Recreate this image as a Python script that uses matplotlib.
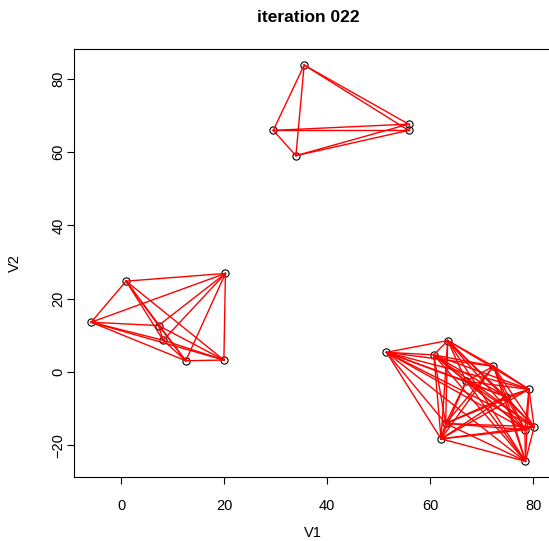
import matplotlib
matplotlib.use('Agg')
import matplotlib.pyplot as plt
import numpy as np
from itertools import combinations

plt.rcParams['font.family'] = ['Liberation Sans', 'DejaVu Sans']

# point coordinates per cluster
v1_a = [35.5, 29.5, 33.9, 55.8, 55.8]
v2_a = [83.7, 65.9, 59.0, 67.6, 65.9]

v1_b = [0.9, 20.2, -5.9, 7.2, 8.1, 12.5, 19.9]
v2_b = [24.8, 26.9, 13.6, 12.7, 8.7, 3.1, 3.3]

v1_c = [51.5, 63.4, 60.7, 72.3, 79.2, 80.2, 78.5, 62.1, 74.7, 67.0, 78.4, 63.0]
v2_c = [5.4, 8.6, 4.7, 1.6, -4.7, -14.9, -24.3, -18.2, -6.7, -2.5, -15.7, -14.0]

clusters = [(v1_a, v2_a), (v1_b, v2_b), (v1_c, v2_c)]

fig = plt.figure(figsize=(5.49, 5.41), dpi=100)
ax = fig.add_axes([0.1348, 0.1189, 0.870, 0.790])

# points first, then every pair inside a cluster joined on top
for xs, ys in clusters:
    ax.plot(xs, ys, 'o', mfc='none', mec='black', ms=5.2, mew=0.8, zorder=1)

for xs, ys in clusters:
    for i, j in combinations(range(len(xs)), 2):
        ax.plot([xs[i], xs[j]], [ys[i], ys[j]], color='red', lw=1.0, zorder=2)

ax.set_xlim(-9.23, 83.6)
ax.set_ylim(-28.5, 88.0)
ax.set_xticks([0, 20, 40, 60, 80])
ax.set_yticks([-20, 0, 20, 40, 60, 80])
ax.set_yticklabels(['\u221220', '0', '20', '40', '60', '80'], rotation=90, va='center')
ax.tick_params(labelsize=10.5, length=5, width=0.8)
ax.tick_params(axis='x', pad=11)
ax.tick_params(axis='y', pad=1)
for s in ax.spines.values():
    s.set_linewidth(0.8)

ax.set_xlabel('V1', fontsize=10.5, va='center')
ax.set_ylabel('V2', fontsize=10.5, va='center')
ax.xaxis.set_label_coords(0.5, -0.131)
ax.yaxis.set_label_coords(-0.124, 0.5)
fig.text(0.562, 0.967, 'iteration 022', ha='center', va='center', fontsize=12.5, fontweight='bold')

fig.savefig('out.png', dpi=100)
